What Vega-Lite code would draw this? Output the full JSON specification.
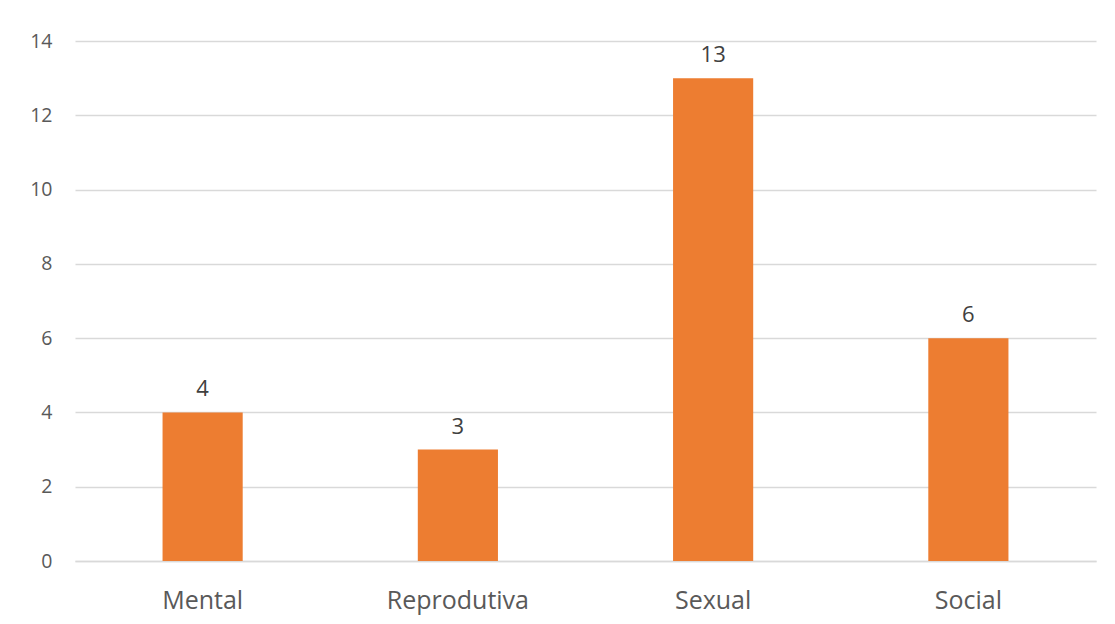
{
  "$schema": "https://vega.github.io/schema/vega-lite/v6.json",
  "autosize": "none",
  "width": 1021,
  "height": 520,
  "padding": {"left": 75, "top": 41, "right": 19, "bottom": 63},
  "background": "white",
  "config": {
    "view": {"stroke": null},
    "font": "Open Sans",
    "axis": {"labelColor": "#595959", "gridColor": "#d9d9d9", "gridWidth": 1.4, "domainColor": "#d9d9d9", "domainWidth": 1.4}
  },
  "data": {
    "values": [
      {"categoria": "Mental", "valor": 4},
      {"categoria": "Reprodutiva", "valor": 3},
      {"categoria": "Sexual", "valor": 13},
      {"categoria": "Social", "valor": 6}
    ]
  },
  "encoding": {
    "x": {
      "field": "categoria",
      "type": "nominal",
      "sort": null,
      "scale": {"paddingInner": 0.686, "paddingOuter": 0.343},
      "axis": {"title": null, "labelAngle": 0, "labelFontSize": 25, "labelPadding": 27, "ticks": false, "grid": false}
    },
    "y": {
      "field": "valor",
      "type": "quantitative",
      "scale": {"domain": [0, 14], "nice": false},
      "axis": {"title": null, "values": [0, 2, 4, 6, 8, 10, 12, 14], "labelFontSize": 19.5, "labelPadding": 23, "ticks": false, "domain": false, "grid": true}
    }
  },
  "layer": [
    {"mark": {"type": "bar", "color": "#ED7D31"}},
    {
      "mark": {"type": "text", "baseline": "alphabetic", "dy": -16, "fontSize": 22, "color": "#404040"},
      "encoding": {"text": {"field": "valor", "type": "quantitative"}}
    }
  ]
}
